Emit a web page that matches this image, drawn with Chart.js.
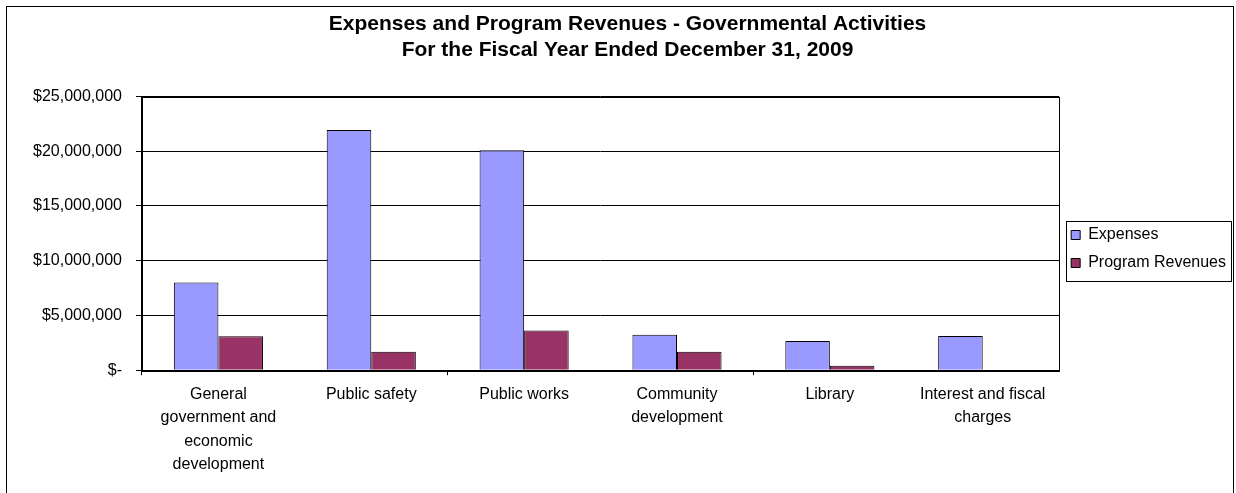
<!DOCTYPE html>
<html>
<head>
<meta charset="utf-8">
<script src="https://cdn.jsdelivr.net/npm/chart.js@4"></script>
<style>
  html, body { margin: 0; padding: 0; background: #fff; }
</style>
</head>
<body>
<canvas id="chart" width="1236" height="493"></canvas>
<script>
const categories = [
    ['General', 'government and', 'economic', 'development'],
    'Public safety',
    'Public works',
    ['Community', 'development'],
    'Library',
    ['Interest and fiscal', 'charges']
]
const expenses = [8000000, 21950000, 20100000, 3240000, 2660000, 3120000]
const programRevenues = [3100000, 1680000, 3630000, 1680000, 400000, 0]
const seriesNames = ['Expenses', 'Program Revenues']
const titleLines = ['Expenses and Program Revenues - Governmental Activities', 'For the Fiscal Year Ended December 31, 2009']
const yMax = 25000000, yStep = 5000000

Chart.defaults.font.family = '"Liberation Sans", Arial, sans-serif'
Chart.defaults.color = '#000'

const money = v => v === 0 ? '$-' : '$' + v.toLocaleString('en-US')

// white page, outer frame, plot frame and legend frame
const frames = {
    id: 'frames',
    beforeDraw(chart) {
        const c = chart.ctx
        c.save()
        c.fillStyle = '#fff'
        c.fillRect(0, 0, chart.width, chart.height)
        c.restore()
    },
    afterDraw(chart) {
        const c = chart.ctx, a = chart.chartArea
        c.save()
        c.strokeStyle = '#000'
        c.lineWidth = 1
        c.strokeRect(6.5, 6.5, 1227, 520)
        c.strokeRect(Math.round(a.left) + 0.5, Math.round(a.top) + 0.5, Math.round(a.right - a.left), Math.round(a.bottom - a.top))
        const hb = chart.legend.legendHitBoxes
        if (hb && hb.length) {
            const l = Math.min(...hb.map(h => h.left)) - 5
            const r = Math.max(...hb.map(h => h.left + h.width)) + 5
            const t = hb[0].top - 6
            const b = hb[hb.length - 1].top + hb[hb.length - 1].height + 10
            c.strokeRect(Math.round(l) + 0.5, Math.round(t) + 0.5, Math.round(r - l), Math.round(b - t))
        }
        c.restore()
    }
}

new Chart(document.getElementById('chart'), {
    type: 'bar',
    data: {
        labels: categories,
        datasets: [{
            label: seriesNames[0],
            data: expenses,
            backgroundColor: '#9999ff',
            borderColor: '#000',
            borderWidth: 1,
            borderSkipped: 'bottom'
        }, {
            label: seriesNames[1],
            data: programRevenues,
            backgroundColor: '#993366',
            borderColor: '#000',
            borderWidth: 1,
            borderSkipped: 'bottom'
        }]
    },
    options: {
        responsive: false,
        animation: false,
        devicePixelRatio: 1,
        categoryPercentage: 0.583,
        barPercentage: 1,
        layout: { padding: { left: 19, right: 0, top: 0, bottom: 9 } },
        plugins: {
            title: {
                display: true,
                text: titleLines,
                font: { size: 21, weight: 'bold', lineHeight: 1.25 },
                padding: { top: 11, bottom: 33 }
            },
            legend: {
                position: 'right',
                title: { display: true, text: ' ', font: { size: 8, lineHeight: 1 }, padding: 3 },
                labels: {
                    boxWidth: 9,
                    boxHeight: 9,
                    padding: 12,
                    font: { size: 16 }
                }
            },
            tooltip: { enabled: false }
        },
        scales: {
            x: {
                grid: {
                    offset: true,
                    drawOnChartArea: false,
                    tickLength: 5,
                    color: ctx => ctx.index % 2 === 0 ? '#000' : 'rgba(0,0,0,0)'
                },
                border: { color: '#000' },
                ticks: {
                    maxRotation: 0,
                    autoSkip: false,
                    padding: 8,
                    font: { size: 16, lineHeight: 1.45 }
                }
            },
            y: {
                min: 0,
                max: yMax,
                grid: { color: '#000', tickLength: 6 },
                border: { color: '#000' },
                ticks: {
                    stepSize: yStep,
                    padding: 14,
                    font: { size: 16 },
                    callback: money
                }
            }
        }
    },
    plugins: [frames]
})
</script>
</body>
</html>
